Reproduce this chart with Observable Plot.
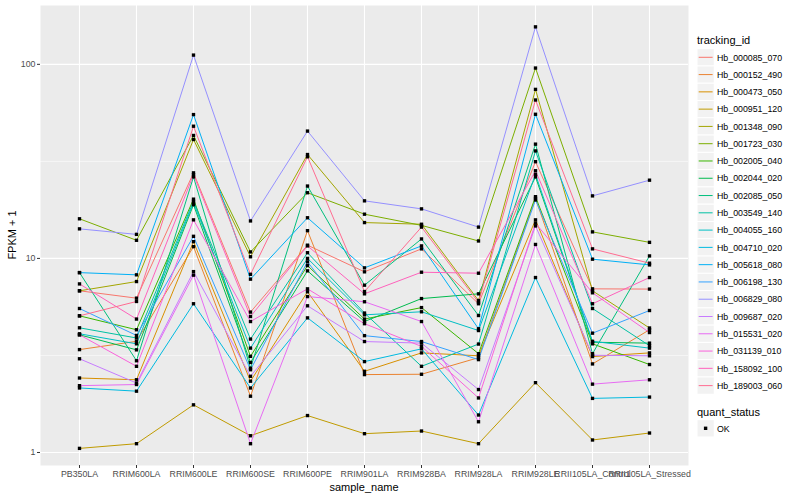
<!DOCTYPE html>
<html><head><meta charset="utf-8">
<script src="https://cdn.jsdelivr.net/npm/d3@7"></script>
<script src="https://cdn.jsdelivr.net/npm/@observablehq/plot@0.6"></script>
<style>body{margin:0;background:#fff;} #chart{width:800px;height:500px;}</style>
</head><body><div id="chart"></div>
<script>
const samples = ["PB350LA","RRIM600LA","RRIM600LE","RRIM600SE","RRIM600PE","RRIM901LA","RRIM928BA","RRIM928LA","RRIM928LE","RRII105LA_Control","RRII105LA_Stressed"];
const ids = ["Hb_000085_070","Hb_000152_490","Hb_000473_050","Hb_000951_120","Hb_001348_090","Hb_001723_030","Hb_002005_040","Hb_002044_020","Hb_002085_050","Hb_003549_140","Hb_004055_160","Hb_004710_020","Hb_005618_080","Hb_006198_130","Hb_006829_080","Hb_009687_020","Hb_015531_020","Hb_031139_010","Hb_158092_100","Hb_189003_060"];
const colors = ["#F8766D","#EA8331","#D89000","#C09B00","#A3A500","#7CAE00","#39B600","#00BB4E","#00BF7D","#00C1A3","#00BFC4","#00BAE0","#00B0F6","#35A2FF","#9590FF","#C77CFF","#E76BF3","#FA62DB","#FF62BC","#FF6C91"];

// FPKM + 1 per series, in sample order
const s000085 = [6.81, 6.24, 27.6, 5.29, 11.7, 8.53, 11.2, 5.84, 31.5, 6.97, 6.95];
const s000152 = [3.39, 3.74, 11.5, 1.95, 13.9, 2.52, 2.53, 3.08, 20.4, 2.86, 4.29];
const s000473 = [2.42, 2.37, 12.2, 2.33, 6.73, 2.62, 3.26, 3.15, 15.8, 3.12, 3.26];
const s000951 = [1.05, 1.11, 1.76, 1.22, 1.55, 1.25, 1.29, 1.11, 2.29, 1.16, 1.26];
const s001348 = [6.81, 7.6, 41, 10.2, 34.3, 15.3, 15.0, 6.07, 74.3, 6.81, 4.38];
const s001723 = [16.0, 12.4, 43, 10.8, 21.8, 16.9, 14.8, 12.3, 95.7, 13.7, 12.1];
const s002005 = [5.06, 4.29, 20.2, 3.13, 9.18, 4.87, 5.58, 3.23, 20.8, 3.63, 2.84];
const s002044 = [4.04, 3.38, 18.9, 2.91, 8.63, 4.73, 6.21, 6.57, 26.3, 3.70, 3.66];
const s002085 = [8.45, 2.97, 26.3, 2.72, 23.6, 7.28, 12.6, 5.08, 38.8, 3.23, 10.3];
const s003549 = [4.39, 3.89, 19.7, 3.84, 10.7, 5.23, 2.78, 3.62, 35.8, 5.52, 3.55];
const s004055 = [4.09, 3.63, 19.3, 3.45, 10.0, 5.12, 5.31, 4.25, 27.1, 3.74, 3.45];
const s004710 = [2.15, 2.07, 5.84, 2.15, 4.94, 2.94, 3.42, 1.56, 7.97, 1.90, 1.93];
const s005618 = [8.45, 8.23, 55.1, 7.82, 16.2, 8.94, 11.6, 4.34, 55.3, 9.91, 9.26];
const s006198 = [5.52, 4.01, 13.0, 2.67, 9.6, 4.0, 3.73, 3.01, 20.0, 4.12, 5.39];
const s006829 = [14.2, 13.3, 111.6, 15.6, 45.3, 19.8, 18.0, 14.5, 156, 21.0, 25.3];
const s009687 = [3.04, 2.28, 8.55, 2.47, 5.70, 3.73, 3.66, 2.11, 14.7, 3.17, 3.15];
const s015531 = [2.21, 2.24, 8.2, 1.11, 6.36, 5.98, 4.73, 1.44, 11.8, 2.25, 2.37];
const s031139 = [4.04, 2.78, 15.8, 4.73, 6.97, 4.61, 3.52, 1.91, 15.2, 6.65, 4.15];
const s158092 = [7.39, 4.87, 27.0, 5.02, 11.6, 6.57, 8.49, 8.39, 28.3, 5.84, 7.97];
const s189003 = [5.06, 6.0, 48, 8.28, 33.4, 6.75, 14.5, 5.93, 65.5, 11.2, 9.45];
const seriesValues = [s000085,s000152,s000473,s000951,s001348,s001723,s002005,s002044,s002085,s003549,s004055,s004710,s005618,s006198,s006829,s009687,s015531,s031139,s158092,s189003];

const yTicks = [1, 10, 100];
const yMinor = [Math.sqrt(10), Math.sqrt(1000)];

const rows = ids.flatMap((id, i) => seriesValues[i].map((v, j) => ({id, sample: samples[j], value: v, status: "OK"})));

const font = "'Liberation Sans', Arial, sans-serif";
const chart = Plot.plot({
  width: 800, height: 500,
  marginLeft: 40, marginRight: 112, marginTop: 5, marginBottom: 35,
  x: {type: "point", domain: samples, padding: 0.6, align: 0.5},
  y: {type: "log", domain: [0.857, 201]},
  color: {domain: ids, range: colors},
  style: {fontFamily: font, background: "white", color: "#4D4D4D"},
  marks: [
    Plot.frame({fill: "#EBEBEB", stroke: "none"}),
    Plot.gridY(yMinor, {stroke: "white", strokeOpacity: 1, strokeWidth: 0.55}),
    Plot.gridY(yTicks, {stroke: "white", strokeOpacity: 1, strokeWidth: 1.1}),
    Plot.gridX(samples, {stroke: "white", strokeOpacity: 1, strokeWidth: 1.1}),
    Plot.line(rows, {x: "sample", y: "value", z: "id", stroke: "id", strokeWidth: 1}),
    Plot.dot(rows, {x: "sample", y: "value", symbol: "square", r: 1.9, fill: "black", stroke: "none"}),
    Plot.axisX({tickSize: 3, tickPadding: 2, fontSize: 8.8, label: null, stroke: "#333333", fill: "#4D4D4D"}),
    Plot.axisY({ticks: yTicks, tickFormat: d => String(d), tickSize: 3, tickPadding: 2, fontSize: 8.8, label: null, stroke: "#333333", fill: "#4D4D4D"})
  ]
});
document.getElementById("chart").appendChild(chart);

const svg = d3.select(chart);
svg.append("text").attr("x", 364).attr("y", 491).attr("text-anchor", "middle")
  .attr("font-size", 11).attr("fill", "black").attr("font-family", font).text("sample_name");
svg.append("text").attr("transform", "translate(16,235) rotate(-90)").attr("text-anchor", "middle")
  .attr("font-size", 11).attr("fill", "black").attr("font-family", font).text("FPKM + 1");

const lg = svg.append("g").attr("font-family", font).attr("text-anchor", "start");
lg.append("text").attr("x", 697).attr("y", 44).attr("font-size", 11).attr("fill", "black").text("tracking_id");
ids.forEach((id, i) => {
  const cy = 57.3 + i * 17.28;
  lg.append("rect").attr("x", 697).attr("y", cy - 8.64).attr("width", 17.28).attr("height", 17.28)
    .attr("fill", "#F2F2F2").attr("stroke", "white").attr("stroke-width", 1);
  lg.append("line").attr("x1", 698.7).attr("x2", 712.6).attr("y1", cy).attr("y2", cy)
    .attr("stroke", colors[i]).attr("stroke-width", 1);
  lg.append("text").attr("x", 717).attr("y", cy + 3.2).attr("font-size", 8.8).attr("fill", "black").text(id);
});
lg.append("text").attr("x", 697).attr("y", 416).attr("font-size", 11).attr("fill", "black").text("quant_status");
lg.append("rect").attr("x", 697).attr("y", 428.3 - 8.64).attr("width", 17.28).attr("height", 17.28)
  .attr("fill", "#F2F2F2").attr("stroke", "white");
lg.append("rect").attr("x", 705.6 - 1.7).attr("y", 428.3 - 1.7).attr("width", 3.4).attr("height", 3.4).attr("fill", "black");
lg.append("text").attr("x", 717).attr("y", 431.5).attr("font-size", 8.8).attr("fill", "black").text("OK");
</script></body></html>
